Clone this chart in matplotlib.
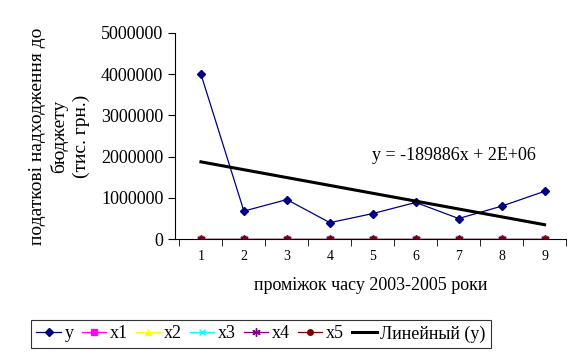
import numpy as np
import matplotlib
matplotlib.use("Agg")
import matplotlib.pyplot as plt
from matplotlib.ticker import FixedLocator

# Data
periods = [1, 2, 3, 4, 5, 6, 7, 8, 9]
y = [4000000, 680000, 960000, 400000, 620000, 890000, 500000, 800000, 1160000]
x1 = [0] * 9
x2 = [0] * 9
x3 = [0] * 9
x4 = [0] * 9
x5 = [0] * 9
y_ticks = [0, 1000000, 2000000, 3000000, 4000000, 5000000]

plt.rcParams['font.family'] = ['Liberation Serif', 'DejaVu Serif']

fig = plt.figure(figsize=(5.8, 3.58), dpi=100)
ax = fig.add_axes([0.302, 0.332, 0.674, 0.576])

ax.plot(periods, y, color='#000080', marker='D', markersize=4, lw=0.9, label='y')
ax.plot(periods, x1, color='#FF00FF', marker='s', markersize=4, lw=0.9, label='x1')
ax.plot(periods, x2, color='#FFFF00', marker='^', markersize=5, lw=0.9, label='x2')
ax.plot(periods, x3, color='#00FFFF', marker='x', markersize=5, lw=0.9, label='x3')
ax.plot(periods, x4, color='#800080', marker=(6, 2, 0), markersize=6, lw=0.9, label='x4')
ax.plot(periods, x5, color='#800000', marker='o', markersize=4, lw=0.9, label='x5')

# linear trend of y
k, b = np.polyfit(periods, y, 1)
xs = np.array(periods)
ax.plot(xs, k * xs + b, color='black', lw=2.2, label='Линейный (y)')
ax.text(4.98, 2040000, 'y = -189886x + 2E+06', fontsize=13, va='center')

ax.set_xlim(0.4, 9.5)
ax.set_ylim(0, 5000000)
ax.set_yticks(y_ticks)
ax.set_yticklabels([str(v) for v in y_ticks])
ax.set_xticks(periods)
ax.set_xticklabels([str(p) for p in periods])
ax.tick_params(axis='y', labelsize=13, length=5, direction='out')
ax.tick_params(axis='x', labelsize=10, length=0, pad=8)
ax.xaxis.set_minor_locator(FixedLocator([p - 0.5 for p in periods] + [9.5]))
ax.tick_params(axis='x', which='minor', length=5, direction='out')
ax.spines['top'].set_visible(False)
ax.spines['right'].set_visible(False)

ax.set_xlabel('проміжок часу 2003-2005 роки', fontsize=13, labelpad=10)
ax.set_ylabel('податкові надходження до\nбюджету\n(тис. грн.)', fontsize=14,
              labelpad=8, linespacing=1.3)

leg = fig.legend(loc='lower center', bbox_to_anchor=(0.45, 0.028), ncol=7,
                 fontsize=13, frameon=True, fancybox=False, edgecolor='black',
                 handlelength=1.35, handletextpad=0.2, columnspacing=0.45,
                 borderpad=0.3, borderaxespad=0)
leg.get_frame().set_linewidth(0.8)

fig.savefig('out.png', dpi=100)
